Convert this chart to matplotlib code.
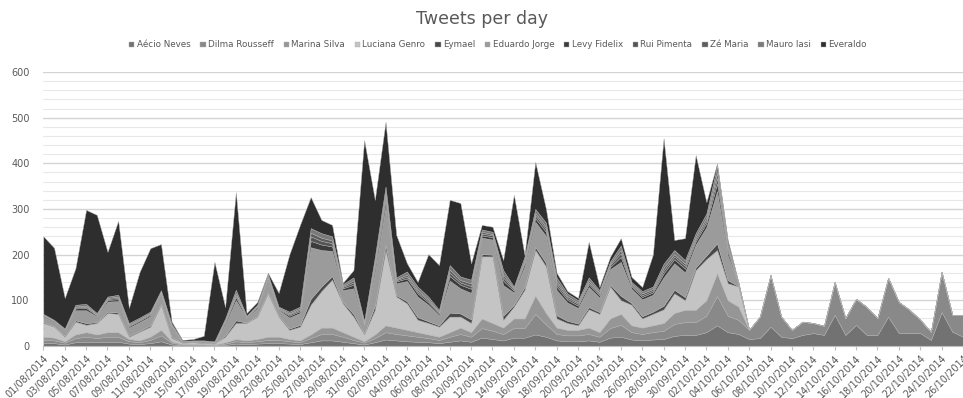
import numpy as np
import pandas as pd
import matplotlib
matplotlib.use("Agg")
import matplotlib.pyplot as plt
from matplotlib.ticker import MultipleLocator

dates = pd.date_range("2014-08-01", "2014-10-27", freq="D")

candidates = ["Aécio Neves", "Dilma Rousseff", "Marina Silva", "Luciana Genro", "Eymael",
              "Eduardo Jorge", "Levy Fidelix", "Rui Pimenta", "Zé Maria", "Mauro Iasi", "Everaldo"]

aecio = [6, 6, 3, 8, 9, 8, 9, 9, 5, 4, 6, 10, 3, 1, 1, 1, 1, 2, 5, 4, 5, 6, 6, 5, 4, 8, 12, 12, 9, 6,
         3, 8, 14, 12, 10, 9, 8, 6, 9, 12, 9, 18, 15, 12, 18, 18, 25, 20, 12, 10, 10, 12, 9, 18, 20, 14, 12, 14, 15, 22,
         24, 24, 30, 45, 30, 26, 15, 17, 42, 20, 17, 24, 28, 24, 68, 24, 46, 24, 24, 64, 28, 28, 28, 13, 74, 31, 20, 20]
dilma = [7, 6, 4, 9, 11, 9, 11, 11, 5, 4, 7, 13, 4, 2, 2, 2, 1, 3, 5, 4, 5, 7, 7, 5, 4, 9, 14, 14, 11, 7,
         4, 9, 16, 14, 13, 11, 9, 7, 11, 14, 11, 21, 18, 14, 21, 21, 45, 27, 14, 13, 13, 14, 11, 21, 26, 16, 14, 16, 18, 26,
         28, 28, 36, 64, 36, 31, 20, 47, 113, 44, 18, 29, 22, 20, 72, 37, 57, 61, 37, 85, 68, 51, 29, 18, 88, 37, 48, 48]
marina = [7, 6, 3, 8, 10, 8, 10, 10, 5, 4, 7, 12, 3, 1, 1, 1, 1, 3, 5, 4, 5, 7, 7, 5, 4, 8, 14, 14, 10, 7,
          3, 8, 15, 14, 12, 10, 8, 7, 10, 14, 10, 21, 17, 14, 21, 21, 40, 25, 14, 12, 12, 14, 10, 21, 24, 15, 14, 15, 17, 24,
          27, 27, 34, 50, 34, 29, 0, 0, 0, 0, 0, 0, 0, 0, 0, 0, 0, 0, 0, 0, 0, 0, 0, 0, 0, 0, 0, 0]
luciana = [30, 24, 10, 28, 16, 25, 42, 40, 5, 19, 22, 55, 7, 3, 4, 2, 2, 12, 35, 38, 49, 95, 44, 20, 30, 65, 80, 105, 63, 44,
           15, 54, 165, 68, 58, 27, 25, 22, 34, 24, 20, 136, 146, 17, 26, 63, 100, 102, 20, 15, 10, 40, 40, 70, 30, 45, 20, 25, 30, 43,
           21, 87, 90, 51, 37, 44, 0, 0, 0, 0, 0, 0, 0, 0, 0, 0, 0, 0, 0, 0, 0, 0, 0, 0, 0, 0, 0, 0]
eymael = [2, 1, 2, 3, 4, 2, 3, 3, 2, 2, 3, 3, 2, 0, 0, 1, 0, 3, 6, 1, 2, 3, 2, 3, 4, 13, 10, 8, 3, 6,
          2, 9, 11, 3, 5, 6, 4, 3, 9, 7, 8, 5, 4, 9, 4, 6, 7, 8, 7, 5, 4, 5, 4, 4, 10, 4, 5, 5, 8, 8,
          7, 6, 8, 15, 7, 1, 0, 0, 0, 0, 0, 0, 0, 0, 0, 0, 0, 0, 0, 0, 0, 0, 0, 0, 0, 0, 0, 0]
eduardo = [12, 9, 11, 22, 28, 13, 22, 25, 18, 19, 20, 19, 19, 3, 3, 3, 3, 24, 44, 10, 16, 25, 13, 24, 26, 113, 80, 55, 26, 56,
           18, 73, 85, 26, 44, 45, 36, 22, 70, 55, 58, 36, 33, 67, 27, 45, 55, 59, 55, 40, 34, 44, 32, 34, 74, 31, 37, 37, 62, 58,
           54, 50, 62, 114, 54, 5, 0, 0, 0, 0, 0, 0, 0, 0, 0, 0, 0, 0, 0, 0, 0, 0, 0, 0, 0, 0, 0, 0]
levy = [2, 2, 2, 4, 5, 2, 4, 4, 3, 3, 3, 3, 3, 1, 0, 1, 1, 4, 7, 2, 3, 4, 2, 4, 4, 14, 12, 10, 4, 8,
        3, 10, 13, 4, 6, 7, 5, 4, 10, 8, 9, 5, 5, 10, 4, 7, 8, 9, 8, 6, 5, 6, 5, 5, 11, 5, 5, 5, 9, 9,
        8, 7, 9, 17, 8, 1, 0, 0, 0, 0, 0, 0, 0, 0, 0, 0, 0, 0, 0, 0, 0, 0, 0, 0, 0, 0, 0, 0]
rui = [1, 1, 1, 2, 3, 1, 2, 3, 2, 2, 2, 2, 2, 0, 0, 0, 0, 3, 4, 1, 2, 3, 1, 3, 3, 10, 8, 7, 3, 5,
       2, 7, 9, 3, 4, 4, 4, 2, 7, 5, 6, 4, 4, 7, 3, 4, 6, 6, 6, 4, 4, 4, 3, 4, 8, 3, 4, 4, 6, 6,
       6, 5, 6, 12, 6, 0, 0, 0, 0, 0, 0, 0, 0, 0, 0, 0, 0, 0, 0, 0, 0, 0, 0, 0, 0, 0, 0, 0]
ze_maria = [1, 1, 1, 2, 2, 2, 2, 3, 2, 2, 2, 2, 2, 0, 0, 0, 0, 2, 4, 1, 1, 3, 2, 2, 3, 8, 7, 6, 2, 5,
            2, 7, 9, 2, 4, 4, 3, 2, 7, 5, 6, 4, 3, 6, 2, 4, 5, 5, 5, 4, 3, 4, 3, 3, 7, 3, 4, 4, 6, 5,
            5, 5, 6, 11, 5, 0, 0, 0, 0, 0, 0, 0, 0, 0, 0, 0, 0, 0, 0, 0, 0, 0, 0, 0, 0, 0, 0, 0]
mauro = [2, 1, 1, 4, 4, 2, 3, 4, 3, 3, 3, 3, 3, 0, 1, 1, 1, 4, 8, 1, 2, 4, 2, 4, 4, 10, 10, 9, 4, 6,
         3, 10, 12, 4, 7, 7, 6, 4, 10, 8, 8, 5, 5, 10, 4, 7, 9, 9, 9, 6, 5, 7, 5, 5, 10, 4, 5, 5, 9, 9,
         8, 8, 9, 16, 8, 1, 0, 0, 0, 0, 0, 0, 0, 0, 0, 0, 0, 0, 0, 0, 0, 0, 0, 0, 0, 0, 0, 0]
everaldo = [170, 158, 67, 80, 206, 215, 98, 162, 33, 100, 139, 101, 5, 2, 3, 10, 174, 25, 214, 6, 6, 3, 30, 125, 179, 68, 29, 25, 3, 16,
            396, 125, 142, 93, 18, 10, 93, 98, 143, 161, 36, 10, 11, 22, 201, 3, 103, 30, 10, 5, 5, 78, 7, 10, 16, 11, 9, 70, 275, 22,
            48, 171, 25, 5, 7, 2, 0, 0, 0, 0, 0, 0, 0, 0, 0, 0, 0, 0, 0, 0, 0, 0, 0, 0, 0, 0, 0, 0]

colors = ["#727272", "#898989", "#969696", "#c4c4c4", "#4a4a4a", "#9b9b9b",
          "#3c3c3c", "#555555", "#5e5e5e", "#7a7a7a", "#2e2e2e"]

series = [aecio, dilma, marina, luciana, eymael, eduardo, levy, rui, ze_maria, mauro, everaldo]

fig = plt.figure(figsize=(9.63, 3.98), dpi=100)
ax = fig.add_axes([0.045, 0.131, 0.955, 0.688])

x = np.arange(len(dates))
ax.stackplot(x, *series, labels=candidates, colors=colors, edgecolor="#b0b0b0", linewidth=0.3)

ax.set_xlim(0, 86)
ax.set_ylim(0, 600)
ax.yaxis.set_major_locator(MultipleLocator(100))
ax.yaxis.set_minor_locator(MultipleLocator(20))
ax.grid(axis="y", which="major", color="#d4d4d4", linewidth=1.0)
ax.grid(axis="y", which="minor", color="#e8e8e8", linewidth=0.8)
ax.set_axisbelow(True)

ax.set_xticks(x[::2])
ax.set_xticklabels([d.strftime("%d/%m/%Y") for d in dates[::2]], rotation=45,
                   ha="right", rotation_mode="anchor", fontsize=7, color="#595959")
ax.tick_params(axis="x", length=3, color="#bfbfbf", pad=2)
ax.tick_params(axis="y", which="both", length=0, labelsize=7, labelcolor="#595959", pad=10)

for s in ["top", "right", "left"]:
    ax.spines[s].set_visible(False)
ax.spines["bottom"].set_color("#bfbfbf")

fig.suptitle("Tweets per day", y=0.975, fontsize=12.5, color="#595959")
fig.legend(loc="center", bbox_to_anchor=(0.517, 0.887), ncol=11, fontsize=6.3, frameon=False,
           handlelength=0.6, handleheight=0.6, handletextpad=0.25, columnspacing=1.15,
           labelcolor="#595959")

fig.savefig("out.png", dpi=100)
